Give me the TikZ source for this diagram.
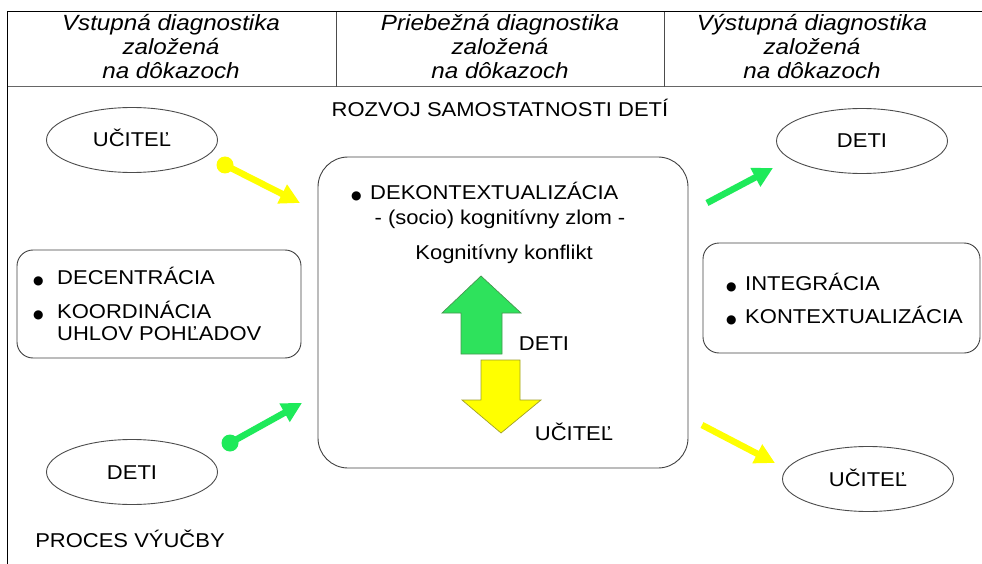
\documentclass[tikz,border=0pt]{standalone}
\usepackage{fontspec}
\setmainfont{Liberation Sans}[FakeStretch=1.1]
\newfontfamily\symfont{DejaVu Sans}
\usetikzlibrary{arrows.meta,shapes.geometric}
\definecolor{gfill}{RGB}{46,226,92}
\definecolor{gline}{RGB}{70,150,80}
\definecolor{yfill}{RGB}{255,255,0}
\definecolor{yline}{RGB}{160,160,40}
\definecolor{garr}{RGB}{30,234,90}
\newcommand{\bulsym}{{\symfont\fontsize{12}{12}\selectfont ●}}
\begin{document}
\begin{tikzpicture}[x=1pt,y=-1pt,
  txt/.style={font=\fontsize{20}{22}\selectfont, inner sep=0pt, anchor=base},
  hdr/.style={font=\fontsize{22}{24}\selectfont\itshape, inner sep=0pt, anchor=base},
  ell/.style={ellipse, draw=black!70, line width=0.9pt, minimum width=171pt, minimum height=65pt, inner sep=0pt},
  rbox/.style={draw=black!75, line width=0.9pt},
  dot/.style={circle, inner sep=0pt, minimum size=17pt},
  yarr/.style={draw=yfill, line width=6.5pt, -{Triangle[length=20pt,width=20pt]}},
  garrow/.style={draw=garr, line width=6.5pt, -{Triangle[length=20pt,width=20pt]}}]
\useasboundingbox (0,0) rectangle (982,564);
% frame and header
\draw[line width=1pt] (7.5,564) -- (7.5,12) -- (982,12);
\draw[black!60, line width=1pt] (7.5,87) -- (982,87);
\draw[black!70, line width=0.8pt] (336,12) -- (336,87);
\draw[black!70, line width=0.8pt] (664,12) -- (664,87);
\node[hdr] (h11) at (171,31) {Vstupná diagnostika};
\node[hdr] (h12) at (171,55) {založená};
\node[hdr] (h13) at (171,79) {na dôkazoch};
\node[hdr] (h21) at (500,31) {Priebežná diagnostika};
\node[hdr] (h22) at (500,55) {založená};
\node[hdr] (h23) at (500,79) {na dôkazoch};
\node[hdr] (h31) at (812,31) {Výstupná diagnostika};
\node[hdr] (h32) at (812,55) {založená};
\node[hdr] (h33) at (812,79) {na dôkazoch};
% title
\node[txt] (rozvoj) at (500,117) {ROZVOJ SAMOSTATNOSTI DETÍ};
% ellipses
\node[ell] (ucTL) at (132,140) {};
\node[txt] at (132,147) {UČITEĽ};
\node[ell] (detiTR) at (862,141) {};
\node[txt] at (862,148) {DETI};
\node[ell] (detiBL) at (132,472) {};
\node[txt] at (132,479) {DETI};
\node[ell] (ucBR) at (868,479) {};
\node[txt] at (868,486) {UČITEĽ};
% boxes
\draw[rbox, rounded corners=16pt] (17,250) rectangle (301,358);
\draw[rbox, rounded corners=16pt] (703,243) rectangle (980,353);
\draw[rbox, rounded corners=30pt] (318,157) rectangle (688,468);
% left box text
\node[txt, anchor=base west] (b1) at (33,284) {\bulsym};
\node[txt, anchor=base west] (decen) at (57,284) {DECENTRÁCIA};
\node[txt, anchor=base west] (b2) at (33,318) {\bulsym};
\node[txt, anchor=base west] (koord) at (57,318) {KOORDINÁCIA};
\node[txt, anchor=base west] (uhlov) at (57,340) {UHLOV POHĽADOV};
% right box text
\node[txt, anchor=base west] (b3) at (726,290) {\bulsym};
\node[txt, anchor=base west] (integ) at (745,290) {INTEGRÁCIA};
\node[txt, anchor=base west] (b4) at (726,323) {\bulsym};
\node[txt, anchor=base west] (kontext) at (745,323) {KONTEXTUALIZÁCIA};
% center box text
\node[txt, anchor=base west] (b5) at (351,200) {\bulsym};
\node[txt, anchor=base west] (dekon) at (370,200) {DEKONTEXTUALIZÁCIA};
\node[txt] (socio) at (500,225) {- (socio) kognitívny zlom -};
\node[txt] (konflikt) at (504,259) {Kognitívny konflikt};
% block arrows
\draw[fill=gfill, draw=gline, line width=0.7pt] (461,354) -- (461,313) -- (442,313) -- (481,276) -- (521,313) -- (502,313) -- (502,354) -- cycle;
\draw[fill=yfill, draw=yline, line width=0.7pt] (481,360) -- (520,360) -- (520,400) -- (541,400) -- (501,433) -- (462,400) -- (481,400) -- cycle;
\node[txt] (detiC) at (544,350) {DETI};
\node[txt] (ucC) at (574,440) {UČITEĽ};
% line arrows
\node[dot, fill=yfill] (d1) at (225,165) {};
\coordinate (t1) at (300,203);
\draw[yarr] (d1.center) -- (t1);
\node[dot, fill=garr] (d2) at (230,443) {};
\coordinate (t2) at (302,403);
\draw[garrow] (d2.center) -- (t2);
\coordinate (s3) at (707,203);
\coordinate (t3) at (773,168);
\draw[garrow] (s3) -- (t3);
\coordinate (s4) at (702,425);
\coordinate (t4) at (775,463);
\draw[yarr] (s4) -- (t4);
% bottom label
\node[txt] (proces) at (130,547) {PROCES VÝUČBY};
\end{tikzpicture}
\end{document}
